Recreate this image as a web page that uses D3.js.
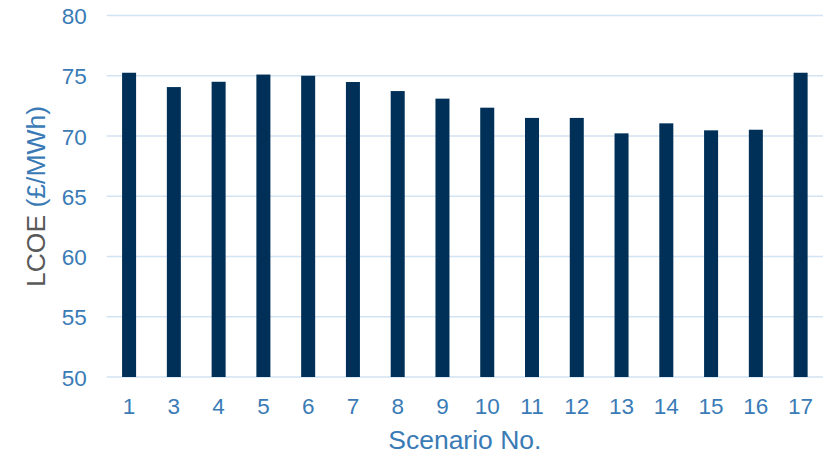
<!DOCTYPE html>
<html>
<head>
<meta charset="utf-8">
<script src="https://cdn.jsdelivr.net/npm/d3@7"></script>
<style>
  html, body { margin: 0; padding: 0; background: #fff; }
  svg { display: block; font-family: "Liberation Sans", Arial, sans-serif; }
</style>
</head>
<body>
<svg id="chart" width="838" height="456"></svg>
<script>
// Levelised cost of energy per scenario
const scenarios = ["1", "3", "4", "5", "6", "7", "8", "9", "10", "11", "12", "13", "14", "15", "16", "17"];
const lcoe = [75.25, 74.06, 74.5, 75.1, 75.0, 74.48, 73.73, 73.1, 72.35, 71.5, 71.5, 70.22, 71.05, 70.47, 70.52, 75.25];
const yTicks = [50, 55, 60, 65, 70, 75, 80];

const svg = d3.select("#chart");
const margin = { left: 106.7, right: 15, top: 15.5, bottom: 79 };
const W = 838, H = 456;

const x = d3.scaleBand()
  .domain(scenarios)
  .range([margin.left, W - margin.right])
  .paddingInner(0.687)
  .paddingOuter(0.3435);

const y = d3.scaleLinear()
  .domain([50, 80])
  .range([H - margin.bottom, margin.top]);

const tickColor = "#3a7bb6";
const gridColor = "#d2e3f3";

// horizontal gridlines
svg.append("g")
  .selectAll("line")
  .data(yTicks)
  .join("line")
  .attr("x1", margin.left)
  .attr("x2", W - margin.right)
  .attr("y1", d => y(d))
  .attr("y2", d => y(d))
  .attr("stroke", gridColor)
  .attr("stroke-width", 1.4);

// bars
svg.append("g")
  .selectAll("rect")
  .data(scenarios.map((s, i) => ({ s, v: lcoe[i] })))
  .join("rect")
  .attr("x", d => x(d.s))
  .attr("width", x.bandwidth())
  .attr("y", d => y(d.v))
  .attr("height", d => y(50) - y(d.v))
  .attr("fill", "#003057");

// y axis labels
const yAxis = svg.append("g")
  .attr("transform", `translate(${margin.left - 20},0)`)
  .call(d3.axisLeft(y).tickValues(yTicks).tickSize(0).tickPadding(0));
yAxis.select(".domain").remove();
yAxis.selectAll("text")
  .attr("fill", tickColor)
  .style("font-size", "22.5px")
  .attr("dy", "0.36em");

// x axis labels
const xAxis = svg.append("g")
  .attr("transform", `translate(0,${H - margin.bottom})`)
  .call(d3.axisBottom(x).tickSize(0).tickPadding(0));
xAxis.select(".domain").remove();
xAxis.selectAll("text")
  .attr("fill", tickColor)
  .style("font-size", "22.5px")
  .attr("y", 37)
  .attr("dy", 0);

// axis titles
svg.append("text")
  .attr("x", (margin.left + W - margin.right) / 2)
  .attr("y", 449)
  .attr("text-anchor", "middle")
  .attr("fill", tickColor)
  .style("font-size", "26.5px")
  .text("Scenario No.");

const yTitle = svg.append("text")
  .attr("transform", `translate(45,196.5) rotate(-90)`)
  .attr("text-anchor", "middle")
  .style("font-size", "26.5px");
yTitle.append("tspan").attr("fill", "#595959").text("LCOE ");
yTitle.append("tspan").attr("fill", tickColor).text("(£/MWh)");
</script>
</body>
</html>
